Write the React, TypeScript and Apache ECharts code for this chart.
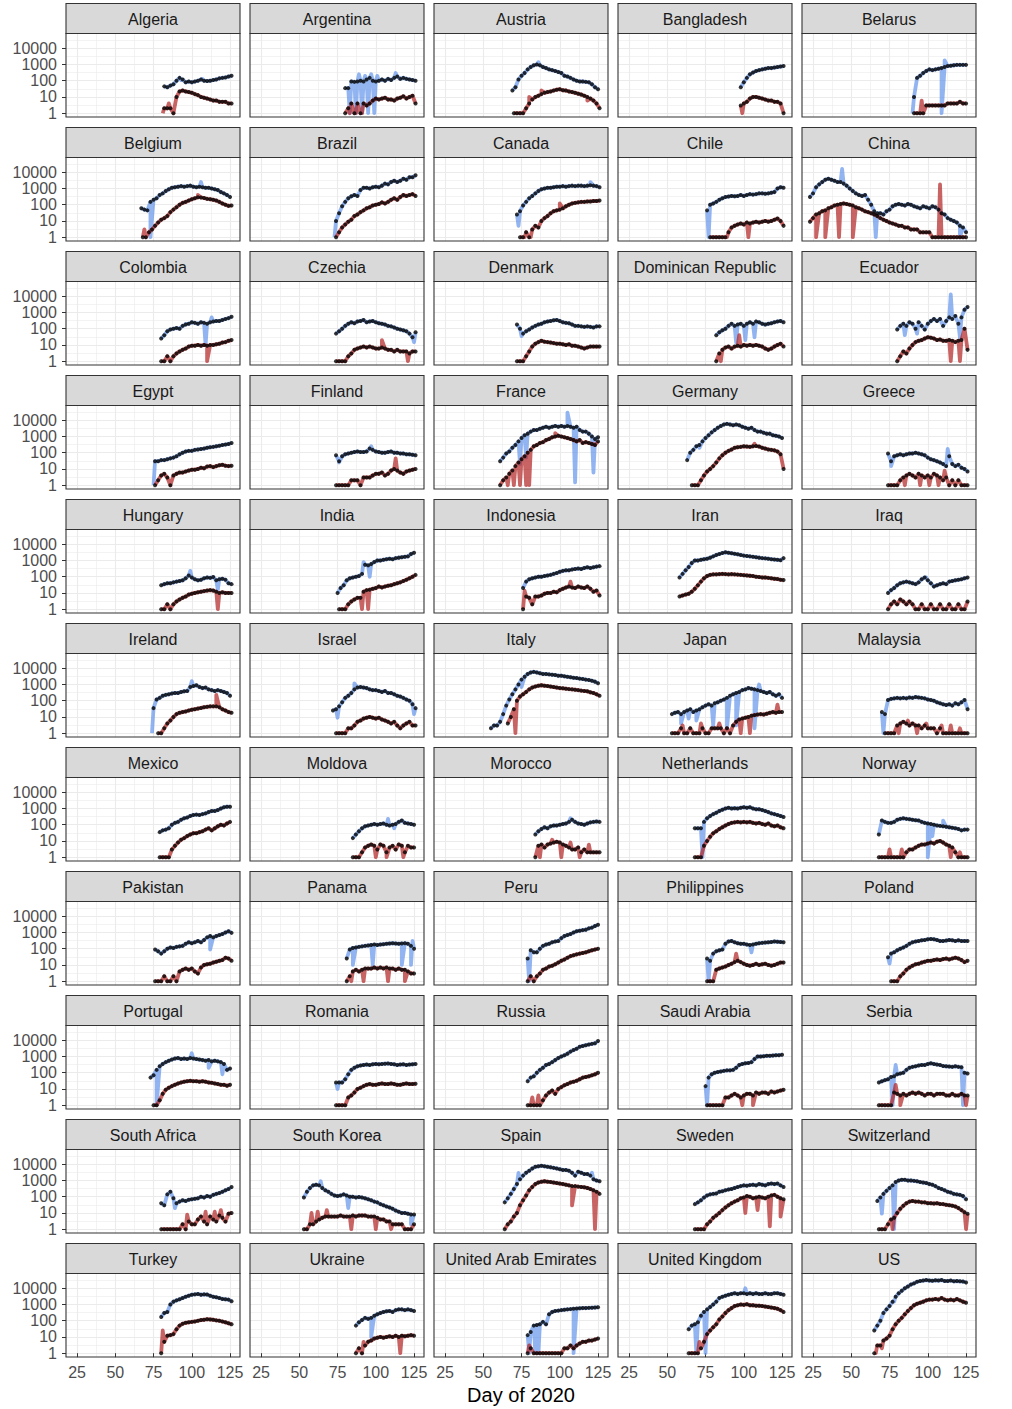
import { useEffect, useRef } from "react";
import * as echarts from "echarts";

const countries = [
  "Algeria", "Argentina", "Austria", "Bangladesh", "Belarus",
  "Belgium", "Brazil", "Canada", "Chile", "China",
  "Colombia", "Czechia", "Denmark", "Dominican Republic", "Ecuador",
  "Egypt", "Finland", "France", "Germany", "Greece",
  "Hungary", "India", "Indonesia", "Iran", "Iraq",
  "Ireland", "Israel", "Italy", "Japan", "Malaysia",
  "Mexico", "Moldova", "Morocco", "Netherlands", "Norway",
  "Pakistan", "Panama", "Peru", "Philippines", "Poland",
  "Portugal", "Romania", "Russia", "Saudi Arabia", "Serbia",
  "South Africa", "South Korea", "Spain", "Sweden", "Switzerland",
  "Turkey", "Ukraine", "United Arab Emirates", "United Kingdom", "US",
];

const xTicks = [25, 50, 75, 100, 125];
const yTickExponents = [0, 1, 2, 3, 4];

// Daily new cases: first number = first day of 2020, then one reading every 2 days
const caseSeries: number[][] = [
  [82, 45, 40, 50, 60, 100, 150, 120, 80, 90, 80, 90, 100, 120, 100, 95, 100, 110, 120, 140, 150, 160, 180, 200], // Algeria
  [80, 35, 35, 90, 85, 90, 100, 90, 120, 150, 100, 90, 100, 120, 100, 130, 110, 150, 180, 130, 150, 130, 120, 110, 100], // Argentina
  [69, 25, 40, 120, 200, 300, 500, 700, 900, 1000, 900, 700, 600, 500, 450, 400, 350, 300, 200, 180, 150, 120, 100, 90, 90, 85, 80, 60, 40, 30], // Austria
  [98, 40, 80, 150, 250, 320, 400, 450, 500, 550, 600, 600, 650, 700, 750, 800], // Bangladesh
  [91, 10, 150, 200, 300, 400, 500, 450, 500, 550, 600, 700, 800, 850, 900, 950, 950, 950, 950], // Belarus
  [67, 60, 50, 45, 150, 200, 250, 400, 500, 700, 900, 1100, 1200, 1300, 1400, 1300, 1400, 1500, 1300, 1200, 1300, 1200, 1100, 1100, 1000, 900, 800, 600, 500, 400, 300], // Belgium
  [74, 10, 30, 80, 150, 250, 330, 400, 350, 800, 1100, 1100, 1000, 1200, 1300, 1200, 1500, 2000, 1800, 2500, 3000, 2500, 3000, 4000, 3500, 5000, 5000, 6500], // Brazil
  [72, 25, 40, 90, 150, 250, 350, 500, 700, 900, 1000, 1100, 1100, 1200, 1300, 1300, 1400, 1300, 1400, 1500, 1400, 1500, 1500, 1400, 1500, 1600, 1500, 1400, 1200], // Canada
  [76, 45, 100, 120, 150, 200, 250, 300, 320, 350, 330, 350, 400, 350, 400, 450, 420, 450, 500, 500, 480, 500, 550, 600, 1000, 1200, 1100], // Chile
  [23, 300, 500, 1200, 1800, 2500, 3500, 4000, 3500, 3000, 2500, 2500, 2000, 1500, 1000, 700, 500, 400, 350, 400, 200, 100, 40, 30, 30, 25, 40, 50, 80, 100, 110, 100, 90, 110, 100, 80, 70, 60, 80, 70, 60, 80, 70, 50, 30, 25, 15, 12, 10, 8, 5, 4, 2], // China
  [80, 25, 40, 70, 90, 100, 110, 100, 150, 180, 200, 250, 230, 200, 250, 230, 200, 250, 280, 300, 300, 350, 400, 450, 550], // Colombia
  [74, 50, 70, 100, 150, 200, 250, 220, 280, 300, 350, 250, 280, 300, 250, 220, 200, 180, 150, 140, 120, 100, 90, 80, 70, 50, 30, 60], // Czechia
  [72, 180, 100, 50, 70, 90, 120, 150, 180, 200, 250, 280, 300, 330, 350, 300, 250, 230, 220, 180, 150, 150, 140, 130, 140, 130, 120, 140, 140], // Denmark
  [82, 40, 60, 80, 100, 150, 200, 150, 180, 200, 150, 200, 250, 200, 280, 250, 200, 180, 200, 220, 250, 280, 300, 250], // Dominican Republic
  [80, 90, 150, 200, 150, 250, 200, 100, 250, 150, 90, 200, 300, 400, 300, 400, 150, 300, 500, 400, 600, 200, 500, 1500, 2200], // Ecuador
  [76, 30, 30, 35, 35, 40, 45, 50, 60, 80, 100, 120, 130, 130, 150, 160, 170, 180, 200, 220, 230, 250, 270, 300, 320, 350, 400], // Egypt
  [74, 70, 30, 60, 80, 90, 100, 110, 120, 110, 110, 120, 180, 150, 120, 110, 100, 100, 110, 120, 100, 100, 90, 90, 80, 80, 75, 70], // Finland
  [61, 30, 50, 90, 120, 200, 300, 500, 800, 1200, 1500, 2000, 2500, 2500, 3000, 3500, 4000, 3500, 4000, 4500, 4000, 4500, 4000, 4500, 4000, 3500, 4000, 2500, 2000, 2000, 1500, 1000, 700, 900], // France
  [63, 35, 100, 150, 250, 300, 500, 800, 1200, 1800, 2500, 3500, 4500, 5500, 6000, 5500, 5000, 5500, 5000, 4000, 3500, 3000, 3500, 2500, 2000, 2000, 1700, 1500, 1500, 1200, 1100, 1000, 800], // Germany
  [74, 90, 30, 60, 70, 80, 70, 80, 90, 90, 100, 90, 80, 70, 50, 40, 35, 30, 25, 20, 15, 60, 20, 15, 18, 12, 10, 7], // Greece
  [80, 30, 35, 40, 40, 45, 50, 55, 60, 80, 120, 90, 70, 60, 65, 80, 90, 85, 95, 60, 70, 75, 65, 40, 35], // Hungary
  [75, 10, 20, 30, 60, 80, 90, 100, 110, 150, 550, 500, 600, 800, 1000, 1000, 1100, 1200, 1300, 1200, 1400, 1500, 1600, 1700, 1800, 2500, 3000], // India
  [76, 20, 50, 70, 80, 90, 100, 100, 110, 120, 130, 150, 170, 200, 230, 250, 250, 280, 300, 320, 300, 350, 380, 350, 380, 420, 450], // Indonesia
  [58, 90, 150, 250, 400, 700, 1000, 1000, 1100, 1200, 1300, 1500, 1800, 2200, 2500, 2900, 3200, 3000, 2800, 2600, 2400, 2200, 2000, 1900, 1800, 1700, 1600, 1500, 1400, 1350, 1300, 1200, 1150, 1100, 1050, 1400], // Iran
  [74, 10, 15, 20, 30, 40, 45, 50, 45, 40, 35, 45, 70, 90, 60, 40, 25, 30, 35, 40, 35, 50, 55, 60, 65, 70, 80, 90], // Iraq
  [75, 35, 120, 150, 200, 230, 250, 280, 300, 300, 350, 380, 400, 700, 800, 900, 700, 600, 650, 500, 450, 400, 450, 400, 350, 300, 200], // Ireland
  [72, 25, 30, 45, 80, 150, 200, 300, 500, 650, 700, 650, 600, 500, 450, 450, 400, 350, 400, 300, 300, 250, 200, 180, 150, 120, 100, 60, 35], // Israel
  [55, 2, 3, 3, 5, 15, 50, 120, 250, 500, 1000, 2000, 3000, 4500, 5500, 6000, 5500, 5000, 4500, 4500, 4200, 4000, 3800, 3500, 3500, 3200, 3000, 2800, 2600, 2500, 2300, 2200, 2000, 1900, 1700, 1500, 1200], // Italy
  [53, 15, 18, 20, 15, 20, 25, 30, 20, 25, 30, 40, 50, 60, 50, 70, 80, 100, 120, 150, 200, 250, 300, 350, 450, 500, 600, 550, 500, 450, 400, 350, 300, 350, 250, 200, 250, 150], // Japan
  [70, 20, 15, 110, 130, 140, 150, 140, 150, 140, 160, 150, 170, 160, 150, 140, 120, 110, 100, 80, 70, 60, 55, 60, 50, 70, 60, 80, 110, 30], // Malaysia
  [79, 35, 45, 50, 60, 100, 130, 150, 200, 250, 280, 350, 400, 420, 400, 450, 500, 600, 700, 700, 800, 1000, 1200, 1300, 1300], // Mexico
  [85, 15, 25, 40, 60, 80, 90, 100, 110, 100, 110, 120, 100, 90, 100, 110, 150, 180, 130, 120, 110, 100], // Moldova
  [84, 25, 40, 55, 70, 60, 80, 90, 90, 100, 110, 120, 150, 200, 150, 120, 110, 100, 120, 140, 150, 160, 150], // Morocco
  [68, 60, 60, 60, 150, 250, 350, 450, 550, 700, 850, 1000, 1100, 1000, 1050, 1000, 1100, 1200, 1100, 1200, 1000, 900, 900, 800, 700, 600, 500, 450, 400, 350, 300], // Netherlands
  [68, 25, 180, 150, 130, 130, 150, 200, 230, 250, 230, 220, 200, 190, 180, 150, 130, 120, 110, 100, 90, 85, 80, 75, 70, 65, 60, 55, 45, 50, 50], // Norway
  [76, 90, 70, 50, 70, 100, 120, 110, 130, 140, 150, 200, 250, 220, 250, 300, 250, 350, 500, 600, 500, 600, 700, 800, 1000, 1200, 950], // Pakistan
  [81, 25, 90, 110, 120, 130, 140, 150, 160, 170, 180, 170, 180, 190, 200, 210, 220, 210, 200, 210, 220, 200, 150, 100], // Panama
  [79, 25, 80, 60, 60, 100, 150, 180, 200, 250, 280, 300, 450, 600, 700, 800, 1000, 1200, 1300, 1400, 1500, 1800, 2000, 2500, 3000], // Peru
  [76, 25, 18, 50, 70, 80, 90, 200, 280, 300, 250, 220, 200, 200, 180, 170, 180, 200, 220, 230, 240, 250, 260, 280, 270, 260, 250], // Philippines
  [74, 30, 50, 60, 80, 100, 120, 150, 200, 250, 280, 300, 330, 350, 380, 400, 380, 350, 300, 300, 320, 350, 330, 300, 330, 300, 300, 300], // Poland
  [73, 50, 70, 150, 250, 350, 450, 550, 650, 750, 800, 700, 750, 700, 800, 750, 700, 650, 600, 550, 600, 500, 550, 500, 450, 350, 150, 180], // Portugal
  [74, 25, 25, 25, 40, 80, 150, 200, 250, 280, 300, 320, 300, 330, 350, 330, 350, 360, 370, 350, 330, 300, 320, 330, 300, 320, 330, 350], // Romania
  [79, 30, 50, 60, 100, 150, 200, 300, 350, 450, 600, 800, 1000, 1200, 1500, 2000, 2500, 3000, 4000, 4500, 5000, 5500, 6000, 6500, 9000], // Russia
  [75, 15, 50, 80, 100, 110, 120, 130, 140, 140, 150, 200, 300, 350, 380, 400, 450, 700, 1000, 1000, 1050, 1100, 1100, 1150, 1200, 1200, 1300], // Saudi Arabia
  [68, 25, 30, 35, 40, 55, 60, 80, 90, 100, 150, 200, 230, 250, 280, 300, 300, 350, 380, 350, 320, 300, 260, 250, 240, 230, 250, 230, 220, 100, 90], // Serbia
  [80, 40, 30, 140, 200, 80, 40, 50, 60, 55, 65, 70, 75, 80, 100, 90, 110, 100, 130, 150, 170, 200, 250, 300, 400], // South Africa
  [53, 90, 200, 350, 500, 550, 500, 350, 250, 200, 150, 120, 110, 120, 140, 120, 100, 100, 90, 95, 90, 80, 70, 60, 50, 45, 35, 30, 25, 22, 18, 14, 12, 10, 10, 9, 8, 8], // South Korea
  [64, 45, 80, 150, 300, 600, 1200, 2000, 3000, 4000, 5500, 7000, 7500, 8000, 7500, 7000, 6500, 6000, 5500, 5000, 4500, 4500, 4000, 3000, 2000, 3500, 3000, 2500, 2500, 2000, 1200, 1000, 900], // Spain
  [68, 35, 45, 60, 90, 120, 140, 150, 160, 200, 220, 250, 280, 300, 350, 400, 450, 500, 480, 520, 550, 500, 600, 550, 500, 600, 650, 600, 650, 500, 400], // Sweden
  [67, 55, 90, 150, 230, 350, 500, 800, 1000, 1100, 1100, 1000, 1000, 950, 900, 800, 750, 700, 600, 550, 450, 350, 300, 250, 200, 180, 150, 140, 130, 110, 70], // Switzerland
  [80, 170, 300, 350, 1000, 1500, 1800, 2100, 2500, 3000, 3500, 4000, 4200, 4500, 4000, 4200, 4100, 3500, 3000, 2800, 2500, 2200, 2100, 2000, 1600], // Turkey
  [87, 50, 80, 110, 150, 130, 150, 200, 250, 300, 350, 380, 400, 350, 450, 500, 500, 450, 500, 450, 400], // Ukraine
  [79, 13, 20, 50, 55, 60, 85, 60, 250, 350, 400, 420, 450, 480, 500, 520, 550, 560, 580, 600, 600, 620, 640, 650, 680], // United Arab Emirates
  [64, 30, 50, 60, 80, 200, 350, 500, 700, 1000, 1500, 2500, 3000, 3500, 4000, 4500, 5000, 4500, 5000, 5000, 4500, 5000, 4500, 5000, 4500, 4500, 5000, 4500, 4500, 5000, 5000, 4500, 4000], // United Kingdom
  [65, 25, 50, 100, 300, 500, 800, 1500, 3000, 5000, 7000, 10000, 13000, 17000, 20000, 25000, 28000, 30000, 32000, 30000, 29000, 31000, 30000, 32000, 28000, 28000, 30000, 27000, 28000, 27000, 26000, 23000], // US
];

// Daily new deaths: first number = first day of 2020, then one reading every 2 days
const deathSeries: number[][] = [
  [82, 2, 2, 2, 1, 10, 22, 25, 22, 20, 18, 15, 13, 10, 9, 8, 7, 6, 6, 5, 5, 5, 4, 4], // Algeria
  [80, 1, 2, 4, 1, 4, 1, 4, 3, 4, 6, 8, 7, 8, 9, 7, 7, 6, 8, 9, 11, 8, 10, 12, 4], // Argentina
  [70, 1, 1, 1, 1, 2, 4, 7, 10, 12, 15, 18, 20, 22, 25, 28, 30, 26, 25, 22, 20, 18, 16, 14, 12, 10, 8, 6, 4, 2], // Austria
  [98, 3, 4, 5, 8, 10, 10, 9, 8, 7, 6, 6, 5, 5, 4, 1], // Bangladesh
  [91, 1, 1, 1, 1, 3, 3, 3, 3, 3, 3, 3, 4, 4, 4, 4, 5, 4, 4], // Belarus
  [68, 1, 1, 2, 3, 5, 8, 12, 15, 20, 35, 50, 70, 100, 130, 150, 180, 220, 250, 290, 280, 260, 230, 220, 200, 180, 150, 120, 100, 85, 90], // Belgium
  [74, 1, 2, 4, 6, 9, 12, 20, 25, 35, 45, 60, 70, 90, 100, 110, 140, 120, 150, 200, 250, 200, 300, 400, 350, 400, 450, 350], // Brazil
  [74, 1, 1, 2, 1, 3, 5, 4, 10, 15, 20, 30, 40, 45, 50, 60, 80, 100, 120, 130, 140, 150, 150, 160, 160, 170, 170, 180], // Canada
  [78, 1, 1, 1, 1, 1, 1, 2, 4, 5, 6, 7, 6, 8, 7, 8, 9, 8, 9, 10, 9, 10, 12, 14, 10, 5], // Chile
  [23, 9, 15, 25, 30, 40, 45, 60, 70, 90, 100, 110, 120, 110, 100, 90, 70, 60, 50, 40, 35, 30, 25, 20, 15, 12, 10, 8, 7, 6, 5, 5, 4, 4, 3, 3, 3, 2, 2, 2, 2, 1, 1, 1, 1, 1, 1, 1, 1, 1, 1, 1, 1], // China
  [80, 1, 1, 2, 1, 2, 3, 4, 5, 6, 8, 9, 9, 10, 9, 10, 9, 10, 10, 11, 12, 14, 15, 18, 20], // Colombia
  [74, 1, 1, 1, 1, 2, 3, 5, 6, 7, 8, 7, 8, 7, 6, 6, 7, 6, 5, 5, 4, 5, 4, 4, 4, 3, 4, 4], // Czechia
  [72, 1, 1, 1, 2, 4, 8, 12, 15, 18, 16, 15, 14, 13, 12, 12, 11, 10, 11, 9, 9, 8, 7, 6, 7, 8, 8, 8, 8], // Denmark
  [82, 1, 3, 5, 7, 8, 6, 8, 9, 8, 10, 9, 10, 9, 10, 9, 8, 6, 5, 6, 8, 10, 12, 8], // Dominican Republic
  [80, 1, 2, 4, 3, 6, 10, 15, 18, 20, 25, 30, 28, 25, 20, 22, 18, 18, 20, 18, 15, 18, 20, 100, 5], // Ecuador
  [76, 1, 2, 4, 5, 3, 1, 4, 5, 6, 6, 7, 8, 9, 9, 10, 12, 11, 14, 15, 13, 15, 17, 18, 16, 15, 16], // Egypt
  [74, 1, 1, 1, 1, 1, 2, 2, 2, 1, 3, 3, 3, 4, 5, 5, 6, 4, 5, 8, 10, 8, 6, 5, 7, 8, 9, 10], // Finland
  [61, 1, 2, 3, 5, 8, 15, 25, 40, 60, 100, 150, 250, 300, 400, 450, 600, 700, 900, 1000, 1100, 1000, 900, 800, 700, 600, 500, 600, 400, 450, 400, 350, 300, 500], // France
  [66, 1, 1, 1, 2, 4, 7, 10, 15, 25, 45, 70, 100, 130, 160, 200, 220, 230, 250, 240, 230, 250, 260, 240, 200, 180, 160, 150, 140, 120, 80, 10], // Germany
  [74, 1, 1, 1, 1, 2, 3, 4, 5, 4, 3, 5, 4, 3, 4, 3, 5, 4, 3, 2, 3, 1, 2, 1, 2, 1, 1, 1], // Greece
  [80, 1, 1, 2, 1, 2, 3, 4, 5, 6, 8, 9, 10, 11, 12, 13, 14, 15, 14, 12, 10, 11, 10, 10, 10], // Hungary
  [76, 1, 1, 1, 2, 3, 4, 5, 5, 12, 15, 16, 18, 20, 25, 22, 25, 28, 30, 35, 40, 45, 55, 65, 80, 100, 130], // India
  [76, 1, 6, 5, 2, 6, 6, 7, 9, 10, 10, 12, 11, 15, 18, 22, 25, 22, 20, 25, 22, 20, 25, 18, 12, 14, 7], // Indonesia
  [58, 6, 7, 8, 9, 12, 18, 30, 50, 80, 110, 130, 140, 140, 145, 150, 145, 140, 145, 140, 135, 130, 125, 120, 115, 110, 100, 95, 90, 90, 85, 80, 75, 72, 65, 62], // Iran
  [74, 1, 2, 3, 2, 4, 3, 2, 3, 2, 1, 1, 2, 1, 1, 2, 1, 1, 2, 1, 1, 2, 1, 1, 2, 1, 1, 3], // Iraq
  [78, 1, 1, 2, 4, 6, 10, 15, 18, 20, 22, 25, 28, 30, 33, 36, 40, 42, 45, 45, 45, 40, 30, 25, 20, 18], // Ireland
  [74, 1, 1, 1, 1, 2, 2, 3, 5, 6, 8, 9, 10, 9, 8, 9, 7, 6, 5, 4, 5, 3, 2, 3, 4, 5, 3, 3], // Israel
  [66, 4, 10, 30, 100, 180, 250, 350, 500, 650, 750, 850, 900, 850, 800, 750, 700, 650, 600, 580, 550, 520, 500, 480, 450, 420, 400, 380, 330, 300, 250, 200], // Italy
  [53, 1, 1, 1, 2, 1, 1, 2, 1, 1, 1, 2, 1, 1, 2, 2, 2, 2, 1, 2, 1, 3, 5, 7, 8, 9, 10, 12, 13, 14, 15, 14, 16, 18, 20, 18, 20, 20], // Japan
  [72, 1, 1, 1, 1, 3, 4, 5, 4, 3, 4, 3, 3, 2, 3, 2, 2, 2, 1, 2, 1, 1, 1, 1, 1, 1, 1, 1, 1], // Malaysia
  [79, 1, 1, 1, 1, 3, 5, 8, 12, 15, 20, 25, 30, 30, 35, 40, 50, 60, 45, 60, 80, 100, 90, 120, 150], // Mexico
  [85, 1, 1, 1, 2, 4, 5, 6, 5, 3, 6, 5, 2, 4, 5, 3, 6, 5, 2, 5, 4, 4], // Moldova
  [84, 1, 5, 6, 4, 6, 7, 8, 9, 8, 6, 5, 4, 3, 3, 4, 2, 3, 2, 2, 2, 2, 2], // Morocco
  [68, 1, 1, 1, 5, 10, 18, 30, 40, 55, 70, 90, 110, 130, 140, 150, 140, 150, 140, 150, 130, 120, 130, 110, 100, 120, 90, 80, 90, 70, 60], // Netherlands
  [68, 1, 1, 1, 1, 1, 1, 1, 1, 1, 2, 3, 3, 4, 5, 6, 6, 7, 8, 7, 9, 10, 8, 6, 5, 4, 2, 1, 1, 1, 1], // Norway
  [76, 1, 1, 1, 2, 1, 1, 2, 1, 4, 5, 6, 5, 6, 4, 3, 7, 10, 11, 12, 14, 16, 18, 20, 28, 25, 18], // Pakistan
  [81, 1, 2, 4, 5, 4, 5, 6, 6, 6, 7, 6, 7, 6, 7, 6, 6, 5, 6, 5, 5, 4, 3, 3], // Panama
  [79, 1, 2, 1, 2, 3, 5, 6, 8, 9, 11, 14, 18, 22, 28, 35, 40, 45, 50, 55, 60, 70, 80, 90, 100], // Peru
  [76, 1, 1, 1, 5, 6, 7, 8, 10, 12, 15, 18, 15, 12, 10, 9, 10, 12, 10, 11, 12, 10, 9, 10, 12, 14, 14], // Philippines
  [76, 1, 1, 1, 2, 3, 5, 7, 9, 11, 12, 14, 16, 18, 18, 20, 22, 20, 23, 25, 22, 25, 28, 25, 20, 15, 18], // Poland
  [75, 1, 1, 2, 5, 9, 12, 15, 18, 22, 25, 28, 30, 32, 30, 30, 28, 30, 28, 25, 24, 22, 20, 18, 18, 16, 18], // Portugal
  [74, 1, 1, 1, 1, 3, 4, 6, 10, 12, 15, 18, 20, 18, 18, 20, 22, 20, 20, 22, 20, 18, 18, 20, 22, 20, 20, 21], // Romania
  [79, 1, 1, 1, 1, 1, 2, 4, 6, 8, 5, 10, 13, 17, 20, 25, 28, 32, 40, 50, 55, 60, 70, 80, 100], // Russia
  [76, 1, 1, 1, 1, 1, 1, 3, 3, 4, 5, 4, 3, 4, 5, 5, 4, 6, 5, 6, 6, 5, 7, 6, 7, 8, 9], // Saudi Arabia
  [68, 1, 1, 1, 1, 1, 6, 5, 4, 5, 4, 5, 6, 5, 6, 5, 4, 5, 5, 4, 5, 5, 5, 4, 4, 5, 4, 4, 5, 4, 4], // Serbia
  [80, 1, 1, 1, 1, 1, 1, 1, 2, 1, 3, 2, 2, 4, 6, 3, 2, 6, 4, 3, 7, 5, 3, 9, 10], // South Africa
  [53, 1, 1, 2, 2, 3, 4, 5, 6, 6, 6, 6, 6, 7, 6, 6, 6, 7, 6, 7, 7, 7, 6, 6, 6, 5, 4, 4, 3, 3, 2, 2, 2, 2, 1, 1, 1, 2], // South Korea
  [64, 1, 2, 3, 6, 10, 30, 60, 120, 250, 400, 600, 750, 850, 900, 850, 800, 750, 700, 650, 600, 550, 500, 450, 450, 420, 400, 380, 350, 300, 250, 200, 150], // Spain
  [68, 1, 1, 1, 1, 2, 3, 5, 7, 10, 15, 22, 30, 40, 50, 60, 80, 90, 110, 100, 80, 90, 100, 90, 80, 100, 120, 130, 100, 80, 70], // Sweden
  [68, 1, 1, 1, 2, 4, 5, 10, 18, 28, 40, 50, 55, 50, 50, 45, 45, 40, 40, 38, 40, 36, 35, 32, 30, 28, 25, 20, 15, 11, 9], // Switzerland
  [80, 1, 5, 12, 13, 15, 30, 50, 65, 75, 80, 85, 90, 100, 110, 115, 125, 120, 115, 105, 100, 90, 80, 70, 60], // Turkey
  [87, 1, 2, 1, 3, 5, 6, 8, 9, 10, 9, 10, 11, 10, 12, 10, 12, 11, 12, 13, 12], // Ukraine
  [79, 1, 2, 1, 1, 1, 1, 1, 1, 1, 1, 1, 1, 2, 2, 3, 2, 3, 4, 5, 5, 6, 6, 7, 8], // United Arab Emirates
  [64, 1, 1, 1, 1, 2, 5, 15, 25, 40, 60, 120, 180, 300, 450, 600, 800, 900, 1000, 950, 1050, 900, 900, 850, 850, 800, 750, 700, 650, 600, 550, 450, 350], // United Kingdom
  [65, 1, 3, 3, 6, 8, 12, 30, 60, 100, 150, 250, 400, 600, 900, 1100, 1300, 1500, 1800, 2000, 2000, 2200, 2000, 2500, 2000, 1800, 2000, 1800, 2200, 1800, 1500, 1300], // US
];

// Single-day outliers of the raw case line: [day, value]
const caseDips: number[][][] = [
  [[93, 110], [107, 130]], // Algeria
  [[83, 1], [87, 1], [89, 250], [91, 1], [93, 200], [95, 1], [97, 250], [99, 1], [101, 200], [113, 300]], // Argentina
  [[86, 1400]], // Austria
  [], // Bangladesh
  [[90, 1], [109, 1], [111, 1800]], // Belarus
  [[73, 1], [106, 2500]], // Belgium
  [[73, 1]], // Brazil
  [[73, 5], [120, 2500]], // Canada
  [[77, 1]], // Chile
  [[44, 16000], [66, 1], [121, 1]], // China
  [[96, 200], [109, 10], [113, 500]], // Colombia
  [[125, 15]], // Czechia
  [[75, 35]], // Denmark
  [[95, 14], [101, 20], [107, 30]], // Dominican Republic
  [[85, 40], [93, 50], [115, 13000], [121, 30]], // Ecuador
  [[75, 1]], // Egypt
  [[76, 25], [97, 250]], // Finland
  [[74, 20], [78, 50], [105, 29000], [110, 1.5], [122, 6]], // France
  [[71, 200]], // Germany
  [[76, 15], [113, 170]], // Greece
  [[99, 230], [117, 16]], // Hungary
  [[92, 800], [96, 100]], // India
  [], // Indonesia
  [], // Iran
  [[99, 90]], // Iraq
  [[74, 1], [100, 1600]], // Ireland
  [[75, 9], [86, 1150], [125, 15]], // Israel
  [[75, 700]], // Italy
  [[59, 4], [64, 8], [69, 6], [80, 3], [89, 2], [95, 3], [107, 2], [110, 1000]], // Japan
  [[71, 1]], // Malaysia
  [], // Mexico
  [[108, 230], [112, 60]], // Moldova
  [[107, 250]], // Morocco
  [[73, 1]], // Netherlands
  [[100, 1], [103, 20], [110, 180]], // Norway
  [[112, 90]], // Pakistan
  [[85, 10], [98, 10], [117, 10], [123, 10], [124, 300]], // Panama
  [[80, 1]], // Peru
  [[77, 1], [105, 60]], // Philippines
  [[75, 12]], // Poland
  [[77, 1], [100, 1600], [111, 200], [120, 80]], // Portugal
  [[75, 10]], // Romania
  [], // Russia
  [[76, 1]], // Saudi Arabia
  [[77, 1], [79, 300], [123, 1]], // Serbia
  [[89, 20]], // South Africa
  [[64, 900], [82, 20], [123, 2]], // South Korea
  [[73, 2900], [121, 3000]], // Spain
  [], // Sweden
  [[70, 9], [78, 1]], // Switzerland
  [], // Turkey
  [[97, 10]], // Ukraine
  [[80, 1], [84, 1], [86, 1], [109, 1]], // United Arab Emirates
  [[69, 1], [75, 1], [101, 10000]], // United Kingdom
  [[78, 1500]], // US
];

// Single-day outliers of the raw death line: [day, value]
const deathDips: number[][][] = [
  [[81, 1], [85, 4]], // Algeria
  [[83, 1], [87, 1], [91, 1]], // Argentina
  [[80, 10], [88, 25], [118, 6]], // Austria
  [[99, 1]], // Bangladesh
  [[96, 6]], // Belarus
  [[69, 3], [104, 400]], // Belgium
  [], // Brazil
  [[77, 1], [81, 1], [100, 120]], // Canada
  [[89, 1], [103, 1]], // Chile
  [[27, 1], [33, 1], [42, 1], [51, 1], [108, 1800]], // China
  [[110, 1]], // Colombia
  [[104, 20], [121, 1]], // Czechia
  [], // Denmark
  [[85, 1], [97, 40]], // Dominican Republic
  [[115, 1], [121, 1]], // Ecuador
  [], // Egypt
  [[113, 45]], // Finland
  [[66, 1], [70, 1], [74, 1], [78, 1], [80, 1], [97, 1600]], // France
  [[107, 360]], // Germany
  [[85, 1], [95, 1], [101, 1], [107, 1], [111, 8]], // Greece
  [[117, 1]], // Hungary
  [[91, 1], [95, 1]], // India
  [[77, 14], [107, 50]], // Indonesia
  [], // Iran
  [], // Iraq
  [[116, 230]], // Ireland
  [], // Israel
  [[71, 1]], // Italy
  [[60, 3], [72, 4], [84, 4], [98, 1], [104, 1], [122, 58]], // Japan
  [[81, 1], [87, 6], [93, 1], [99, 4], [109, 3], [115, 3], [121, 2]], // Malaysia
  [], // Mexico
  [[100, 1], [107, 1], [118, 1]], // Moldova
  [[87, 1], [95, 12], [101, 1], [107, 8], [113, 1], [119, 6]], // Morocco
  [], // Netherlands
  [[75, 3], [83, 3], [115, 1], [121, 2]], // Norway
  [], // Pakistan
  [[84, 1], [92, 1], [108, 1], [119, 1]], // Panama
  [], // Peru
  [[95, 50]], // Philippines
  [], // Poland
  [], // Portugal
  [], // Romania
  [[82, 3], [86, 4]], // Russia
  [[99, 1], [106, 1]], // Saudi Arabia
  [[79, 18], [82, 1], [125, 1]], // Serbia
  [[97, 8], [109, 12], [115, 12], [119, 15]], // South Africa
  [[58, 10], [62, 12], [68, 15], [84, 1], [100, 1], [110, 1]], // South Korea
  [[108, 29], [123, 1]], // Spain
  [[101, 10], [109, 15], [117, 1.5], [124, 6]], // Sweden
  [[77, 1], [125, 1]], // Switzerland
  [[81, 25]], // Turkey
  [[92, 5], [116, 1]], // Ukraine
  [[80, 3]], // United Arab Emirates
  [[71, 5]], // United Kingdom
  [[66, 1], [70, 2]], // US
];

const FONT = "'Liberation Sans', Arial, Helvetica, sans-serif";
const CASE_COLOR = "rgba(100,149,237,0.7)";
const DEATH_COLOR = "rgba(178,34,34,0.7)";

function toPoints(s: number[]): number[][] {
  const start = s[0];
  return s.slice(1).map((v, i) => [start + 2 * i, v]);
}
function toLog(pts: number[][]): number[][] {
  return pts.map(([d, v]) => [d, Math.log10(v)]);
}
function lineData(pts: number[][], dips: number[][]): number[][] {
  const all = [...pts, ...dips].sort((a, b) => a[0] - b[0]);
  return toLog(all);
}

function buildOption() {
  const grid: any[] = [];
  const xAxis: any[] = [];
  const yAxis: any[] = [];
  const series: any[] = [];
  const graphic: any[] = [];
  const PW = 174, PH = 83.5, PITCH_X = 184, PITCH_Y = 124;
  countries.forEach((name, i) => {
    const row = Math.floor(i / 5);
    const col = i % 5;
    const left = 66 + col * PITCH_X;
    const top = 33.5 + row * PITCH_Y;
    grid.push({ left, top, width: PW, height: PH, show: true, backgroundColor: "#ffffff", borderWidth: 0 });
    const bottomRow = row === 10;
    const firstCol = col === 0;
    xAxis.push({
      gridIndex: i, type: "value", min: 17.8, max: 131.5, minInterval: 25, maxInterval: 25,
      axisLine: { show: false },
      axisTick: { show: bottomRow, length: 4, customValues: xTicks, lineStyle: { color: "#333333", width: 1 } },
      axisLabel: { show: bottomRow, customValues: xTicks, fontSize: 16, color: "#4D4D4D", margin: 7, fontFamily: FONT },
      splitLine: { show: true, lineStyle: { color: "#EBEBEB", width: 1.1 } },
      minorTick: { show: false, splitNumber: 2 },
      minorSplitLine: { show: true, lineStyle: { color: "#EBEBEB", width: 0.6 } },
    });
    yAxis.push({
      gridIndex: i, type: "value", min: -0.234, max: 4.91, minInterval: 1, maxInterval: 1,
      axisLine: { show: false },
      axisTick: { show: firstCol, length: 4, customValues: yTickExponents, lineStyle: { color: "#333333", width: 1 } },
      axisLabel: {
        show: firstCol, customValues: yTickExponents, fontSize: 16, color: "#4D4D4D", margin: 9, fontFamily: FONT,
        formatter: (v: number) => String(Math.round(Math.pow(10, v))),
      },
      splitLine: { show: true, lineStyle: { color: "#EBEBEB", width: 1.1 } },
      minorTick: { show: false, splitNumber: 2 },
      minorSplitLine: { show: true, lineStyle: { color: "#EBEBEB", width: 0.6 } },
    });
    const cPts = toPoints(caseSeries[i]);
    const dPts = toPoints(deathSeries[i]);
    series.push({
      type: "line", xAxisIndex: i, yAxisIndex: i, data: lineData(cPts, caseDips[i]),
      showSymbol: false, symbol: "none", silent: true, z: 2,
      lineStyle: { color: CASE_COLOR, width: 3.8, join: "round", cap: "butt" },
    });
    series.push({
      type: "line", xAxisIndex: i, yAxisIndex: i, data: lineData(dPts, deathDips[i]),
      showSymbol: false, symbol: "none", silent: true, z: 2,
      lineStyle: { color: DEATH_COLOR, width: 3.8, join: "round", cap: "butt" },
    });
    series.push({
      type: "scatter", xAxisIndex: i, yAxisIndex: i, data: toLog(cPts),
      symbol: "circle", symbolSize: 4, silent: true, z: 3, itemStyle: { color: "#000000" },
    });
    series.push({
      type: "scatter", xAxisIndex: i, yAxisIndex: i, data: toLog(dPts),
      symbol: "circle", symbolSize: 4, silent: true, z: 3, itemStyle: { color: "#000000" },
    });
    // strip
    graphic.push({
      type: "rect", z: 100, silent: true,
      shape: { x: left, y: top - 30, width: PW, height: 30 },
      style: { fill: "#D9D9D9", stroke: "#333333", lineWidth: 1.1 },
    });
    graphic.push({
      type: "text", z: 101, silent: true, x: left + PW / 2, y: top - 14.5,
      style: { text: name, fill: "#1A1A1A", fontSize: 16, fontFamily: FONT, align: "center", verticalAlign: "middle" },
    });
    // panel border
    graphic.push({
      type: "rect", z: 100, silent: true,
      shape: { x: left, y: top, width: PW, height: PH },
      style: { fill: "none", stroke: "#333333", lineWidth: 1.1 },
    });
  });
  graphic.push({
    type: "text", z: 101, silent: true, x: 521, y: 1395,
    style: { text: "Day of 2020", fill: "#000000", fontSize: 20, fontFamily: FONT, align: "center", verticalAlign: "middle" },
  });
  return {
    animation: false,
    backgroundColor: "#ffffff",
    textStyle: { fontFamily: FONT },
    grid, xAxis, yAxis, series, graphic,
  };
}

export default function App() {
  const ref = useRef<HTMLDivElement>(null);
  useEffect(() => {
    if (!ref.current) return;
    const chart = echarts.init(ref.current, undefined, { renderer: "svg" });
    chart.setOption(buildOption() as any);
    return () => chart.dispose();
  }, []);
  return (
    <div
      ref={ref}
      style={{ position: "absolute", left: 0, top: 0, width: 1012, height: 1409, background: "#ffffff" }}
    />
  );
}
